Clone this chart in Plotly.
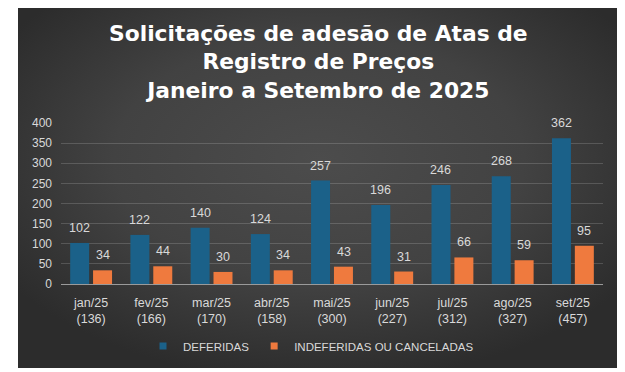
import base64
import plotly.graph_objects as go

months = ["jan/25", "fev/25", "mar/25", "abr/25", "mai/25", "jun/25", "jul/25", "ago/25", "set/25"]
totals = [136, 166, 170, 158, 300, 227, 312, 327, 457]
deferidas = [102, 122, 140, 124, 257, 196, 246, 268, 362]
indeferidas = [34, 44, 30, 34, 43, 31, 66, 59, 95]
yticks = [0, 50, 100, 150, 200, 250, 300, 350, 400]

title_lines = ["Solicitações de adesão de Atas de", "Registro de Preços", "Janeiro a Setembro de 2025"]
series_names = ["DEFERIDAS", "INDEFERIDAS OU CANCELADAS"]

# page has an 8px body margin; figure coordinates = screen - 8
W, H = 625, 372
L, T = 53, 115
plot_right, plot_bottom = 595, 276
R, B = W - plot_right, H - plot_bottom
pw, ph = W - L - R, H - T - B

BLUE = "#1b6189"
ORANGE = "#ef7a3e"
TXT = "#d9d9d9"
FONT = "Liberation Sans, Arial, sans-serif"

cats = [f"{m}<br>({t})" for m, t in zip(months, totals)]

fig = go.Figure()
fig.add_bar(x=cats, y=deferidas, name=series_names[0], marker_color=BLUE,
            marker_line_width=0, showlegend=False)
fig.add_bar(x=cats, y=indeferidas, name=series_names[1], marker_color=ORANGE,
            marker_line_width=0, showlegend=False)

# legend proxies with small square symbols
for name, col in zip(series_names, [BLUE, ORANGE]):
    fig.add_scatter(x=[None], y=[None], mode="markers", name=name,
                    marker=dict(symbol="square", size=7, color=col))

# value labels
for c, v in zip(cats, deferidas):
    fig.add_annotation(x=c, y=v, text=str(v), showarrow=False, xshift=-11.5, yshift=6,
                       yanchor="bottom", font=dict(size=12.5, color=TXT, family=FONT))
for c, v in zip(cats, indeferidas):
    fig.add_annotation(x=c, y=v, text=str(v), showarrow=False, xshift=11.5, yshift=6,
                       yanchor="bottom", font=dict(size=12.5, color=TXT, family=FONT))

# title (one multi-line text block)
fig.add_annotation(xref="paper", yref="paper", x=(310 - L) / pw,
                   y=(plot_bottom - 54) / ph,
                   text="<br>".join(f"<b>{s}</b>" for s in title_lines),
                   showarrow=False, xanchor="center", yanchor="middle", align="center",
                   font=dict(size=21.8, color="#ffffff", family="DejaVu Sans, sans-serif"))

# radial gradient background panel
px0, py0, px1, py1 = 10, 0, 612, 360
svg = f'''<svg xmlns="http://www.w3.org/2000/svg" width="{px1-px0}" height="{py1-py0}" viewBox="0 0 {px1-px0} {py1-py0}" preserveAspectRatio="none">
<defs><radialGradient id="g" cx="50%" cy="42%" r="62%" fx="50%" fy="42%">
<stop offset="0" stop-color="#4c4c4c"/><stop offset="0.55" stop-color="#424242"/><stop offset="1" stop-color="#2c2c2c"/>
</radialGradient></defs>
<rect width="100%" height="100%" fill="url(#g)"/></svg>'''
uri = "data:image/svg+xml;base64," + base64.b64encode(svg.encode()).decode()
fig.add_layout_image(source=uri, xref="paper", yref="paper",
                     x=(px0 - L) / pw, y=(plot_bottom - py0) / ph,
                     sizex=(px1 - px0) / pw, sizey=(py1 - py0) / ph,
                     xanchor="left", yanchor="top", sizing="stretch", layer="below")

fig.update_layout(
    width=W, height=H,
    margin=dict(l=L, r=R, t=T, b=B),
    paper_bgcolor="#ffffff", plot_bgcolor="rgba(0,0,0,0)",
    barmode="group", bargap=0.24, bargroupgap=0.17,
    font=dict(family=FONT, color=TXT, size=12),
    showlegend=True,
    legend=dict(orientation="h", x=(303 - L) / pw, xanchor="center",
                y=(plot_bottom - 338) / ph, yanchor="middle",
                font=dict(size=11.5, color=TXT, family=FONT),
                bgcolor="rgba(0,0,0,0)", itemwidth=30, tracegroupgap=0),
)
fig.update_xaxes(showgrid=False, ticks="", tickfont=dict(size=12.5, color=TXT),
                 showline=False, zeroline=False, ticklabelstandoff=9)
fig.update_yaxes(range=[0, 400], tickvals=yticks, showgrid=True,
                 gridcolor="rgba(255,255,255,0.16)", gridwidth=1,
                 zeroline=True, zerolinecolor="#9a9a9a", zerolinewidth=1,
                 tickfont=dict(size=12, color=TXT), ticks="", showline=False,
                 ticklabelstandoff=8)

fig.write_html("out.html")
